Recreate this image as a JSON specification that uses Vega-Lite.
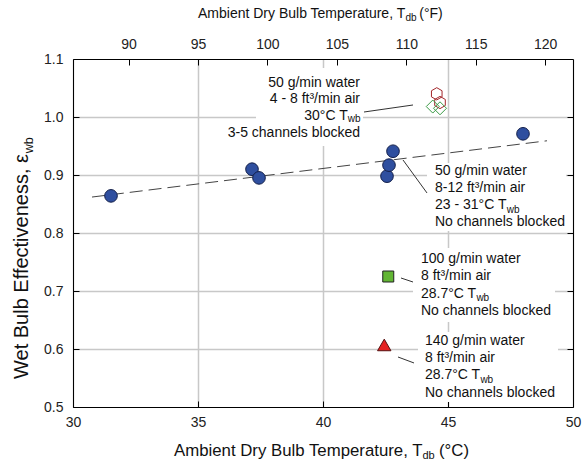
{
  "$schema": "https://vega.github.io/schema/vega-lite/v6.json",
  "width": 500,
  "height": 348,
  "autosize": "none",
  "padding": {"left": 73, "top": 59, "right": 14, "bottom": 58},
  "background": "white",
  "config": {"view": {"stroke": null}, "font": "Liberation Sans"},
  "datasets": {
    "blue": [
      {"x": 31.52, "y": 0.864}, {"x": 37.16, "y": 0.910}, {"x": 37.44, "y": 0.895},
      {"x": 42.56, "y": 0.898}, {"x": 42.64, "y": 0.917}, {"x": 42.8, "y": 0.941}, {"x": 48.0, "y": 0.971}
    ],
    "hex": [{"x": 44.55, "y": 1.040}, {"x": 44.68, "y": 1.025}],
    "diamond": [{"x": 44.39, "y": 1.018}, {"x": 44.68, "y": 1.015}],
    "square": [{"x": 42.61, "y": 0.725}],
    "tri": [{"x": 42.45, "y": 0.607}],
    "trend": [{"x": 30.76, "y": 0.862}, {"x": 48.96, "y": 0.959}],
    "leaders": [
      {"x": 41.64, "y": 1.0086, "x2": 43.6, "y2": 1.0207},
      {"x": 43.2, "y": 0.9259, "x2": 44.16, "y2": 0.869},
      {"x": 43.12, "y": 0.7224, "x2": 43.6, "y2": 0.7155},
      {"x": 43.0, "y": 0.5862, "x2": 43.64, "y2": 0.5759}
    ],
    "boxes": [
      {"x": 37.32, "x2": 41.6, "y": 0.95, "y2": 1.0845},
      {"x": 44.16, "x2": 49.72, "y": 0.8034, "y2": 0.9207},
      {"x": 43.6, "x2": 49.28, "y": 0.6466, "y2": 0.7741},
      {"x": 43.8, "x2": 49.4, "y": 0.5086, "y2": 0.6293}
    ],
    "notesRight": [
      {"x": 41.48, "y": 1.0591, "text": "50 g/min water"},
      {"x": 41.48, "y": 1.0305, "text": "4 - 8 ft³/min air"},
      {"x": 40.99, "y": 1.0017, "text": "30°C T"},
      {"x": 41.48, "y": 0.9729, "text": "3-5 channels blocked"}
    ],
    "notesLeft": [
      {"x": 44.48, "y": 0.9069, "text": "50 g/min water"},
      {"x": 44.48, "y": 0.8776, "text": "8-12 ft³/min air"},
      {"x": 44.48, "y": 0.8483, "text": "23 - 31°C T"},
      {"x": 44.48, "y": 0.8190, "text": "No channels blocked"},
      {"x": 43.92, "y": 0.7552, "text": "100 g/min water"},
      {"x": 43.92, "y": 0.7254, "text": "8 ft³/min air"},
      {"x": 43.92, "y": 0.6955, "text": "28.7°C T"},
      {"x": 43.92, "y": 0.6655, "text": "No channels blocked"},
      {"x": 44.08, "y": 0.6138, "text": "140 g/min water"},
      {"x": 44.08, "y": 0.5845, "text": "8 ft³/min air"},
      {"x": 44.08, "y": 0.5552, "text": "28.7°C T"},
      {"x": 44.08, "y": 0.5241, "text": "No channels blocked"},
      {"x": 35.0, "y": 1.1776, "text": "Ambient Dry Bulb Temperature, T"},
      {"x": 43.85, "y": 1.1776, "text": "(°F)"}
    ],
    "subs": [
      {"x": 40.99, "y": 0.9966, "text": "wb"},
      {"x": 47.348, "y": 0.8405, "text": "wb"},
      {"x": 46.136, "y": 0.6877, "text": "wb"},
      {"x": 46.296, "y": 0.5474, "text": "wb"},
      {"x": 43.30, "y": 1.1715, "text": "db"}
    ],
    "bottomTitle": [
      {"x": 34.04, "y": 0.4241, "text": "Ambient Dry Bulb Temperature, T"},
      {"x": 44.64, "y": 0.4241, "text": "(°C)"}
    ],
    "bottomSub": [{"x": 43.98, "y": 0.4155, "text": "db"}],
    "yTitle": [{"x": 27.96, "y": 0.5483, "text": "Wet Bulb Effectiveness, ε"}],
    "yTitleSub": [{"x": 28.24, "y": 0.9376, "text": "wb"}]
  },
  "layer": [
    {
      "encoding": {
        "x": {
          "field": "x", "type": "quantitative",
          "scale": {"domain": [30, 50], "nice": false, "zero": false},
          "axis": {
            "orient": "bottom", "values": [30, 35, 40, 45, 50], "format": "d", "title": null,
            "labelFontSize": 14, "labelColor": "#222", "labelFlush": false, "labelOverlap": false,
            "tickSize": -6, "tickColor": "#000", "labelPadding": 14,
            "domainColor": "#000", "domainWidth": 1,
            "grid": true, "gridColor": "#c8c8c8", "gridWidth": 1.5
          }
        },
        "y": {
          "field": "y", "type": "quantitative",
          "scale": {"domain": [0.5, 1.1], "nice": false, "zero": false},
          "axis": {
            "orient": "left", "values": [0.5, 0.6, 0.7, 0.8, 0.9, 1.0, 1.1], "format": ".1f", "title": null,
            "labelFontSize": 14, "labelColor": "#222", "labelFlush": false, "labelOverlap": false,
            "tickSize": -6, "tickColor": "#000", "labelPadding": 16,
            "domainColor": "#000", "domainWidth": 1, "grid": false
          }
        }
      },
      "layer": [
        {
          "data": {"name": "boxes"},
          "mark": {"type": "rect", "fill": "white"},
          "encoding": {"x2": {"field": "x2"}, "y2": {"field": "y2"}}
        },
        {
          "data": {"name": "trend"},
          "mark": {"type": "line", "color": "#444", "strokeWidth": 1, "strokeDash": [13, 6]}
        },
        {
          "data": {"name": "leaders"},
          "mark": {"type": "rule", "color": "#333", "strokeWidth": 1},
          "encoding": {"x2": {"field": "x2"}, "y2": {"field": "y2"}}
        },
        {
          "data": {"name": "blue"},
          "mark": {"type": "point", "shape": "circle", "filled": true, "fill": "#2f4f9f", "stroke": "#14204a", "strokeWidth": 1, "size": 160, "opacity": 1}
        },
        {
          "data": {"name": "hex"},
          "mark": {"type": "point", "shape": "M0,-1L0.866,-0.5L0.866,0.5L0,1L-0.866,0.5L-0.866,-0.5Z", "filled": false, "stroke": "#a3262a", "strokeWidth": 1, "size": 150, "opacity": 1}
        },
        {
          "data": {"name": "diamond"},
          "mark": {"type": "point", "shape": "diamond", "filled": false, "stroke": "#3a9a45", "strokeWidth": 1, "size": 169, "opacity": 1}
        },
        {
          "data": {"name": "square"},
          "mark": {"type": "point", "shape": "square", "filled": true, "fill": "#62b634", "stroke": "#222", "strokeWidth": 1, "size": 121, "opacity": 1}
        },
        {
          "data": {"name": "tri"},
          "mark": {"type": "point", "shape": "triangle-up", "filled": true, "fill": "#e52222", "stroke": "#551111", "strokeWidth": 1, "size": 180, "opacity": 1}
        },
        {
          "data": {"name": "notesRight"},
          "mark": {"type": "text", "align": "right", "baseline": "middle", "fontSize": 14, "color": "#111"},
          "encoding": {"text": {"field": "text"}}
        },
        {
          "data": {"name": "notesLeft"},
          "mark": {"type": "text", "align": "left", "baseline": "middle", "fontSize": 14, "color": "#111"},
          "encoding": {"text": {"field": "text"}}
        },
        {
          "data": {"name": "subs"},
          "mark": {"type": "text", "align": "left", "baseline": "middle", "fontSize": 10, "color": "#111"},
          "encoding": {"text": {"field": "text"}}
        },
        {
          "data": {"name": "bottomTitle"},
          "mark": {"type": "text", "align": "left", "baseline": "middle", "fontSize": 16.8, "color": "#111"},
          "encoding": {"text": {"field": "text"}}
        },
        {
          "data": {"name": "bottomSub"},
          "mark": {"type": "text", "align": "left", "baseline": "middle", "fontSize": 11, "color": "#111"},
          "encoding": {"text": {"field": "text"}}
        },
        {
          "data": {"name": "yTitle"},
          "mark": {"type": "text", "align": "left", "baseline": "middle", "fontSize": 20, "angle": 270, "color": "#111"},
          "encoding": {"text": {"field": "text"}}
        },
        {
          "data": {"name": "yTitleSub"},
          "mark": {"type": "text", "align": "left", "baseline": "middle", "fontSize": 12.5, "angle": 270, "color": "#111"},
          "encoding": {"text": {"field": "text"}}
        }
      ]
    },
    {
      "data": {"values": [{"f": 86, "e": 0.5}]},
      "mark": {"type": "point", "opacity": 0},
      "encoding": {
        "x": {
          "field": "f", "type": "quantitative",
          "scale": {"domain": [86, 122], "nice": false, "zero": false},
          "axis": {
            "orient": "top", "values": [90, 95, 100, 105, 110, 115, 120], "format": "d", "title": null,
            "labelFontSize": 14, "labelColor": "#222", "labelFlush": false, "labelOverlap": false,
            "tickSize": -6, "tickColor": "#000", "labelPadding": 14,
            "domainColor": "#000", "domainWidth": 1, "grid": false
          }
        },
        "y": {
          "field": "e", "type": "quantitative",
          "scale": {"domain": [0.5, 1.1], "nice": false, "zero": false},
          "axis": {
            "orient": "right", "values": [0.6, 0.7, 0.8, 0.9, 1.0], "labels": false, "title": null,
            "tickSize": -6, "tickColor": "#000", "domainColor": "#000", "domainWidth": 1,
            "grid": true, "gridColor": "#c8c8c8", "gridWidth": 1.5
          }
        }
      }
    }
  ],
  "resolve": {"scale": {"x": "independent", "y": "independent"}}
}
